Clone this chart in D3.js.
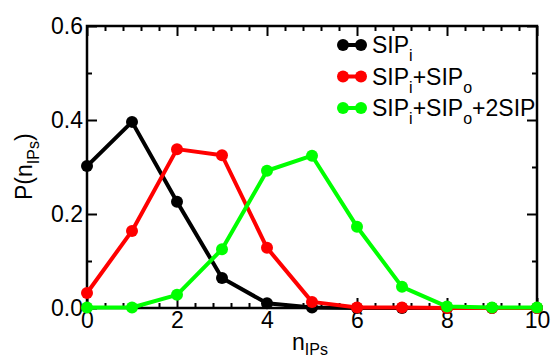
<!DOCTYPE html>
<html>
<head>
<meta charset="utf-8">
<script src="https://cdn.jsdelivr.net/npm/d3@7"></script>
<style>
  body { margin: 0; background: #fff; }
  text { font-family: "Liberation Sans", Arial, sans-serif; }
</style>
</head>
<body>
<div id="chart"></div>
<script>
// data
var nValues = [0, 1, 2, 3, 4, 5, 6, 7, 8, 9, 10];
var sipI = [0.302, 0.396, 0.226, 0.064, 0.010, 0.001, 0, 0, 0, 0, 0];
var sipIO = [0.032, 0.164, 0.338, 0.325, 0.128, 0.013, 0.001, 0.001, 0, 0, 0];
var sipIO2 = [0.001, 0.001, 0.028, 0.125, 0.292, 0.324, 0.173, 0.045, 0.003, 0.001, 0.001];
var xMajor = [0, 2, 4, 6, 8, 10];
var yMajor = [0, 0.2, 0.4, 0.6];

var series = [
    { name: "i", values: sipI, color: "#000000" },
    { name: "io", values: sipIO, color: "#ff0000" },
    { name: "io2", values: sipIO2, color: "#00ff00" }
];

var width = 554, height = 360;
var svg = d3.select("#chart").append("svg").attr("width", width).attr("height", height);

// scales
var x = d3.scaleLinear().domain([0, 10]).range([87, 537]);
var y = d3.scaleLinear().domain([0, 0.6]).range([308, 26]);

var xMinor = d3.range(0, 10.001, 0.4).filter(function (v) { return Math.abs(v / 2 - Math.round(v / 2)) > 0.01; });
var yMinor = [0.1, 0.3, 0.5];

// axes, ticks pointing inward
function drawAxis(axisFn, scale, ticks, size, showLabels, transform, fmt) {
    var a = axisFn(scale).tickValues(ticks).tickSize(-size).tickPadding(showLabels ? 4 : 0);
    if (showLabels) a.tickFormat(fmt); else a.tickFormat("");
    var g = svg.append("g").attr("transform", transform).call(a);
    g.select(".domain").remove();
    g.selectAll(".tick line").attr("stroke", "#000").attr("stroke-width", 2);
    g.selectAll("text").style("font-size", "23px").attr("fill", "#000");
    return g;
}
var fx = d3.format("d"), fy = d3.format(".1f");
drawAxis(d3.axisBottom, x, xMajor, 10, true, "translate(0,308)", fx);
drawAxis(d3.axisBottom, x, xMinor, 5, false, "translate(0,308)");
drawAxis(d3.axisTop, x, xMajor, 10, false, "translate(0,26)");
drawAxis(d3.axisTop, x, xMinor, 5, false, "translate(0,26)");
drawAxis(d3.axisLeft, y, yMajor, 10, true, "translate(87,0)", fy);
drawAxis(d3.axisLeft, y, yMinor, 5, false, "translate(87,0)");
drawAxis(d3.axisRight, y, yMajor, 10, false, "translate(537,0)");
drawAxis(d3.axisRight, y, yMinor, 5, false, "translate(537,0)");

// frame
svg.append("rect")
    .attr("x", 87).attr("y", 26)
    .attr("width", 450).attr("height", 282)
    .attr("fill", "none").attr("stroke", "#000").attr("stroke-width", 2.5);

// lines and markers
var line = d3.line()
    .x(function (d, i) { return x(nValues[i]); })
    .y(function (d) { return y(d); });

series.forEach(function (s) {
    svg.append("path")
        .datum(s.values)
        .attr("d", line)
        .attr("fill", "none")
        .attr("stroke", s.color)
        .attr("stroke-width", 4)
        .attr("stroke-linejoin", "round");
    svg.selectAll(null)
        .data(s.values)
        .enter()
        .append("circle")
        .attr("cx", function (d, i) { return x(nValues[i]); })
        .attr("cy", function (d) { return y(d); })
        .attr("r", 6)
        .attr("fill", s.color);
});

// legend
var legendRows = [
    { color: "#000000", parts: [["SIP", 0], ["i", 1]] },
    { color: "#ff0000", parts: [["SIP", 0], ["i", 1], ["+SIP", 0], ["o", 1]] },
    { color: "#00ff00", parts: [["SIP", 0], ["i", 1], ["+SIP", 0], ["o", 1], ["+2SIP", 0]] }
];
legendRows.forEach(function (r, k) {
    var cy = 45 + k * 31.5;
    svg.append("line").attr("x1", 343).attr("x2", 361).attr("y1", cy).attr("y2", cy)
        .attr("stroke", r.color).attr("stroke-width", 4);
    svg.append("circle").attr("cx", 343).attr("cy", cy).attr("r", 6).attr("fill", r.color);
    svg.append("circle").attr("cx", 361).attr("cy", cy).attr("r", 6).attr("fill", r.color);
    var t = svg.append("text").attr("x", 372).attr("y", cy + 8).style("font-size", "23px");
    var prevSub = false;
    r.parts.forEach(function (p) {
        var ts = t.append("tspan").text(p[0]);
        if (p[1]) { ts.attr("dy", 8).style("font-size", "16px"); prevSub = true; }
        else if (prevSub) { ts.attr("dy", -8); prevSub = false; }
    });
});

// axis labels
var xl = svg.append("text").attr("x", 292).attr("y", 350).style("font-size", "23px");
xl.append("tspan").text("n");
xl.append("tspan").attr("dy", 5).style("font-size", "16px").text("IPs");

var yl = svg.append("text")
    .attr("transform", "translate(32,200) rotate(-90)")
    .style("font-size", "23px");
yl.append("tspan").text("P(n");
yl.append("tspan").attr("dy", 7).style("font-size", "16px").text("IPs");
yl.append("tspan").attr("dy", -7).text(")");
</script>
</body>
</html>
